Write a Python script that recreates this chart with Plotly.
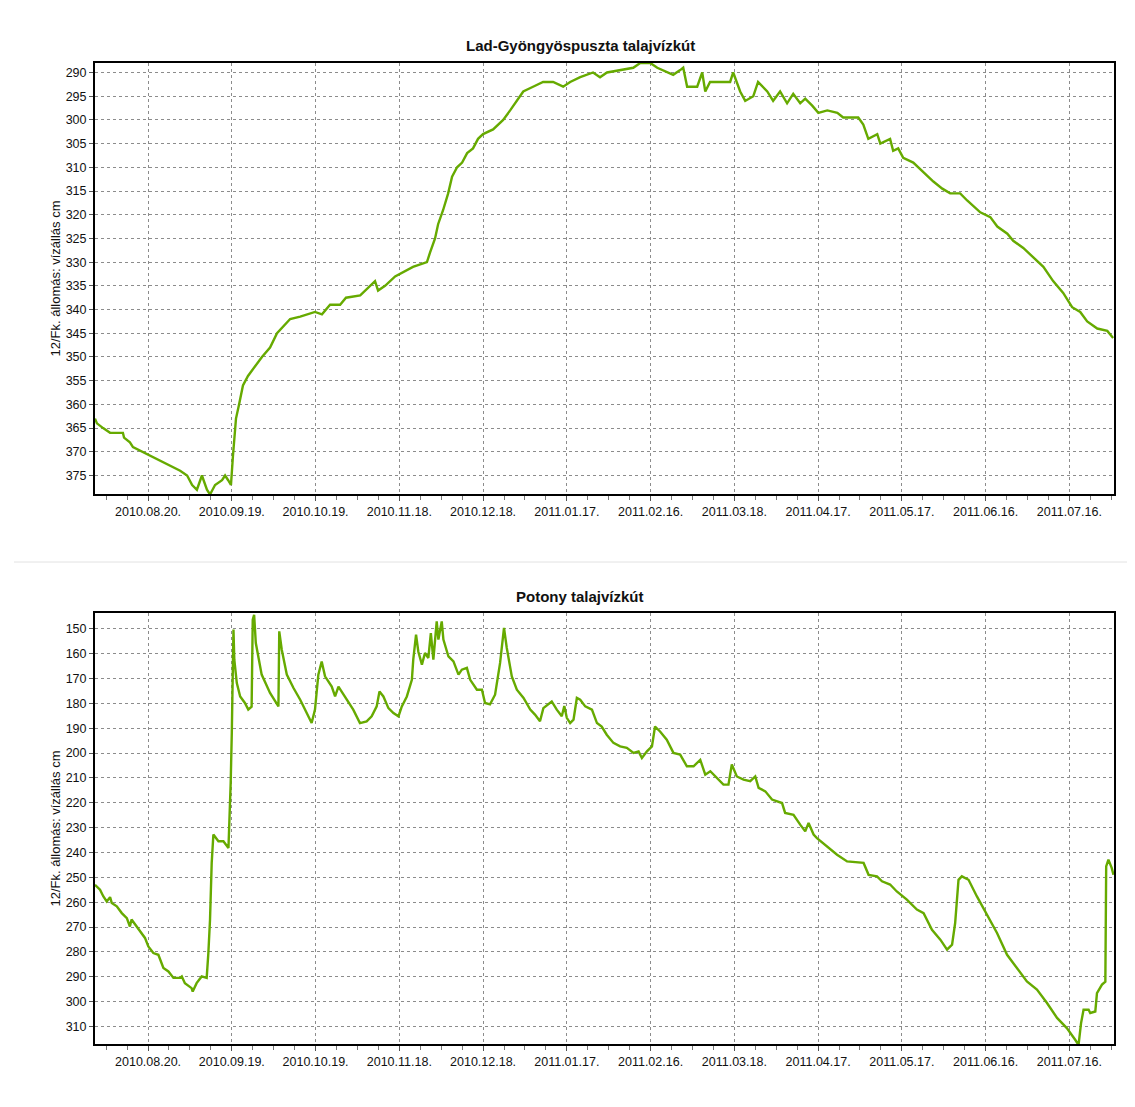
import pandas as pd
import plotly.graph_objects as go

START = "2010-08-01"
END = "2011-08-01"

# Lad-Gyöngyöspuszta: days since 2010-08-01, water level (cm)
lad_day = [0, 0.7, 2.9, 5.4, 10, 10.4, 12.5, 13.6, 30.5, 33, 34.8, 36.5, 38.3, 40.1, 41.2, 43, 45.5, 46.6,
           47.7, 48.7, 49.4, 50.5, 51.6, 53, 54.8, 57.3, 59.8, 62.7, 65.2, 69.9, 73.5, 78.8, 81.3, 84.2,
           87.8, 89.9, 95, 100.3, 101.4, 103.9, 107.5, 113.9, 118.9, 120, 121.8, 122.9, 124.7, 126.5,
           127.9, 129.7, 131.5, 133.3, 135.4, 137.2, 139, 142.6, 144.4, 146.2, 148.7, 151.2, 153.4,
           156.9, 160.5, 164.1, 167.7, 170.2, 173.8, 178.4, 180.9, 183.4, 188.1, 192.8, 195.3, 198.9,
           201.4, 203.5, 207.1, 209.6, 210.7, 212.1, 215.7, 217.5, 218.6, 220.3, 223.9, 227.5, 228.6,
           231.1, 232.9, 235.8, 237.5, 240.8, 242.9, 245.4, 247.9, 250.1, 252.6, 254.4, 256.9, 259.1,
           262.3, 265.9, 268, 273.4, 275.2, 277, 280.2, 281.3, 284.8, 285.9, 287.7, 289.5, 293.1,
           296.7, 300.3, 303.5, 306.3, 309.9, 312.4, 317.1, 320.7, 323.2, 326.8, 328.9, 332.5, 336.1,
           339.7, 343.2, 346.8, 350, 352.9, 355.4, 359, 362.6, 364.7]
lad_level = [363, 364, 365, 366, 366, 367, 368, 369, 374, 375, 377, 378, 375, 378, 379, 377, 376, 375,
             376, 377, 371, 363, 360, 356, 354, 352, 350, 348, 345, 342, 341.5, 340.5, 341, 339,
             339, 337.5, 337, 334, 336, 335, 333, 331, 330, 328, 325, 322, 319, 315.5,
             312, 310, 309, 307, 306, 304, 303, 302, 301, 300, 298, 296, 294,
             293, 292, 292, 293, 292, 291, 290, 291, 290, 289.5, 289, 288, 288,
             289, 289.5, 290.5, 289.5, 289, 293, 293, 290, 294, 292, 292, 292, 290,
             294, 296, 295, 292, 294, 296, 294, 296.5, 294.5, 296.5, 295.5, 297, 298.5,
             298, 298.5, 299.5, 299.5, 301, 304, 303, 305, 304, 306.5, 306, 308, 309,
             311, 313, 314.5, 315.5, 315.5, 317, 319.5, 320.5, 322.5, 324, 325.5, 327, 329,
             331, 334, 336.5, 339.5, 340.5, 342.5, 344, 344.5, 346]

# Potony: days since 2010-08-01, water level (cm)
pot_day = [0, 1.8, 3.0, 4.2, 5.4, 6.0, 7.8, 9.6, 11.4, 12.5, 13.1, 14.9, 16.1, 17.9, 19.1, 20.9, 22.7,
           24.5, 26.3, 28.1, 30.5, 31.1, 32.2, 34.6, 35.0, 36.4, 38.2, 40.0, 40.6, 41.2, 41.8, 42.4,
           44.2, 46.0, 47.8, 48.1, 48.6, 49.0, 49.3, 49.6, 49.9, 50.8, 52.0, 53.7, 54.9, 56.1, 56.5,
           57.0, 57.6, 59.7, 62.7, 65.7, 66.0, 66.9, 68.7, 71.1, 73.5, 75.9, 77.6, 78.8, 80.0, 81.2,
           82.4, 84.8, 86.0, 87.2, 89.6, 92.5, 94.9, 97.3, 99.1, 100.9, 101.9, 103.3, 105.1, 106.9,
           108.7, 109.9, 111.7, 113.5, 114.0, 115.0, 115.8, 117.1, 118.2, 119.4, 120.3, 121.2, 122.4,
           123.0, 124.2, 124.8, 126.6, 128.4, 130.2, 131.4, 133.2, 134.4, 136.8, 138.6, 139.7, 141.5,
           143.3, 145.1, 146.5, 147.5, 149.3, 151.1, 153.5, 155.9, 157.6, 159.4, 160.6, 163.6, 165.4,
           167.2, 168.1, 169.0, 170.2, 171.4, 172.6, 173.8, 175.6, 178.0, 179.8, 181.5, 183.3, 185.7,
           188.1, 190.5, 192.9, 194.7, 195.9, 197.7, 199.5, 200.6, 202.4, 204.8, 207.2, 209.6, 212.0,
           214.4, 216.8, 218.6, 220.4, 222.8, 225.1, 226.9, 228.1, 229.9, 232.3, 234.7, 236.5, 237.7,
           240.1, 242.5, 246.1, 247.2, 250.2, 252.6, 254.4, 255.6, 257.4, 258.6, 262.2, 265.8, 269.4,
           275.3, 277.1, 280.1, 281.9, 284.8, 287.2, 290.8, 294.4, 296.8, 299.8, 302.8, 305.2, 307.0,
           308.1, 309.3, 310.5, 312.9, 315.9, 318.9, 323.1, 326.7, 330.2, 333.8, 337.4, 341.0, 344.6,
           348.1, 351.1, 352.3, 353.2, 354.1, 355.9, 356.5, 358.3, 358.9, 360.7, 361.9, 362.2, 363.0,
           364.2, 364.8]
pot_level = [253, 255, 257.7, 259.7, 258, 260.3, 261.7, 264.4, 266.4, 269.8, 267, 269.8, 271.8, 274.4,
             277.8, 280.5, 281.2, 286.5, 287.9, 290.5, 290.5, 289.9, 292.6, 294.6, 296, 292.6, 289.9,
             290.5, 280.5, 267.1, 244.2, 232.8, 235.5, 235.5, 238.2, 229.5, 212, 191.9, 159.7, 150.3,
             162.4, 171.8, 177.2, 179.8, 182.5, 181.3, 146.3, 144.3, 155.7, 168.4, 175.8, 181.2, 151,
             158.4, 168.4, 173.8, 178.5, 183.9, 187.9, 182.5, 168.4, 163.1, 169.1, 173.2, 177.2, 173.2,
             177.2, 182.5, 187.9, 187.2, 185.2, 181.2, 175.2, 177.2, 181.9, 183.9, 185.2, 181.2, 177.2,
             170.5, 162.4, 152.3, 159.1, 164.4, 159.7, 161.7, 151.7, 162.4, 147, 154.3, 147, 154.3,
             161.1, 163.1, 168.4, 166.4, 165.7, 170.5, 174.5, 174.5, 179.8, 180.4, 176.5, 163.7, 149.6,
             157.7, 169.1, 174.5, 177.8, 182.5, 184.5, 187.2, 181.9, 179.2, 182.5, 185.2, 181, 185.8,
             187.9, 186.5, 177.8, 178.5, 181.2, 182.5, 187.9, 189.3, 192.6, 195.9, 197.3, 197.9, 199.9,
             199.3, 202, 199.3, 197.3, 189.3, 191.3, 194.6, 199.9, 200.6, 205.3, 205.3, 202.7, 208.7,
             207.3, 210, 212.7, 212.7, 204.6, 209.4, 210.7, 211.3, 209.4, 214, 215.4, 218.7, 220.1,
             224.1, 224.8, 228.8, 231.5, 228.1, 232.8, 234.2, 237.6, 240.9, 243.6, 244.2, 249, 249.6,
             251.6, 252.9, 255.7, 259, 263, 264.4, 271.1, 275.1, 279.1, 277.1, 268.4, 251, 249.6, 251,
             257.7, 263.7, 272.4, 281.2, 286.5, 291.9, 295.2, 300.6, 306.6, 310.7, 315.4, 317.5, 308.7,
             303.3, 303.3, 304.6, 304, 296.6, 293.2, 292, 245.6, 242.9, 246.3, 249]

tick_dates = ["2010-08-20", "2010-09-19", "2010-10-19", "2010-11-18", "2010-12-18", "2011-01-17",
              "2011-02-16", "2011-03-18", "2011-04-17", "2011-05-17", "2011-06-16", "2011-07-16"]
tick_text = ["2010.08.20.", "2010.09.19.", "2010.10.19.", "2010.11.18.", "2010.12.18.", "2011.01.17.",
             "2011.02.16.", "2011.03.18.", "2011.04.17.", "2011.05.17.", "2011.06.16.", "2011.07.16."]

titles = ["Lad-Gyöngyöspuszta talajvízkút", "Potony talajvízkút"]
y_title = "12/Fk. állomás: vízállás cm"

OFF = 8  # page body margin
W, H = 1135 - OFF, 1107 - OFF
GREEN = "#66aa00"
FONT = "Liberation Sans, Arial, sans-serif"

start = pd.Timestamp(START)
lad_x = [start + pd.Timedelta(days=d) for d in lad_day]
pot_x = [start + pd.Timedelta(days=d) for d in pot_day]

fig = go.Figure()
fig.add_trace(go.Scatter(x=lad_x, y=lad_level, mode="lines", line=dict(color=GREEN, width=2.4),
                         xaxis="x", yaxis="y", showlegend=False))
fig.add_trace(go.Scatter(x=pot_x, y=pot_level, mode="lines", line=dict(color=GREEN, width=2.4),
                         xaxis="x2", yaxis="y2", showlegend=False))


def px_x(p):
    return (p - OFF) / W


def px_y(p):
    return 1 - (p - OFF) / H


xdom = [px_x(95), px_x(1114)]
top_dom = [px_y(494), px_y(63)]
bot_dom = [px_y(1044), px_y(613)]

grid = dict(showgrid=True, gridcolor="#8c8c8c", gridwidth=1, griddash="3px,3px")
common_x = dict(type="date", range=[START, END], domain=xdom, tickmode="array",
                tickvals=tick_dates, ticktext=tick_text, ticks="outside", ticklen=5,
                tickcolor="#555", showline=True, linecolor="black", linewidth=2, mirror=True,
                tickfont=dict(family=FONT, size=12.5, color="#111"),
                minor=dict(ticks="outside", ticklen=4, tickcolor="#777",
                           tick0="2010-08-20", dtick=7.5 * 86400000, showgrid=False),
                zeroline=False, **grid)
common_y = dict(ticks="outside", ticklen=4, tickcolor="#555", showline=True, linecolor="black",
                linewidth=2, mirror=True, tickfont=dict(family=FONT, size=12.5, color="#111"),
                zeroline=False, **grid)

fig.update_layout(
    width=W, height=H,
    margin=dict(l=0, r=0, t=0, b=0),
    paper_bgcolor="white", plot_bgcolor="white",
    xaxis=dict(anchor="y", **common_x),
    yaxis=dict(anchor="x", domain=top_dom, range=[378.9, 288], tick0=290, dtick=5, **common_y),
    xaxis2=dict(anchor="y2", **common_x),
    yaxis2=dict(anchor="x2", domain=bot_dom, range=[317.1, 143.6], tick0=150, dtick=10, **common_y),
)

ann = []
for t, yc in [(titles[0], 45), (titles[1], 596)]:
    ann.append(dict(text="<b>%s</b>" % t, x=px_x(580), y=px_y(yc), xref="paper", yref="paper",
                    showarrow=False, xanchor="center", yanchor="middle",
                    font=dict(family=FONT, size=15, color="#111")))
for yc in [(63 + 494) / 2, (613 + 1044) / 2]:
    ann.append(dict(text=y_title, x=px_x(55), y=px_y(yc), xref="paper", yref="paper",
                    showarrow=False, textangle=-90, xanchor="center", yanchor="middle",
                    font=dict(family=FONT, size=13, color="#111")))
fig.update_layout(annotations=ann)

fig.add_shape(type="line", xref="paper", yref="paper", x0=px_x(14), x1=1, y0=px_y(562), y1=px_y(562),
              line=dict(color="#e2e2e2", width=1))

fig.write_html("out.html")
